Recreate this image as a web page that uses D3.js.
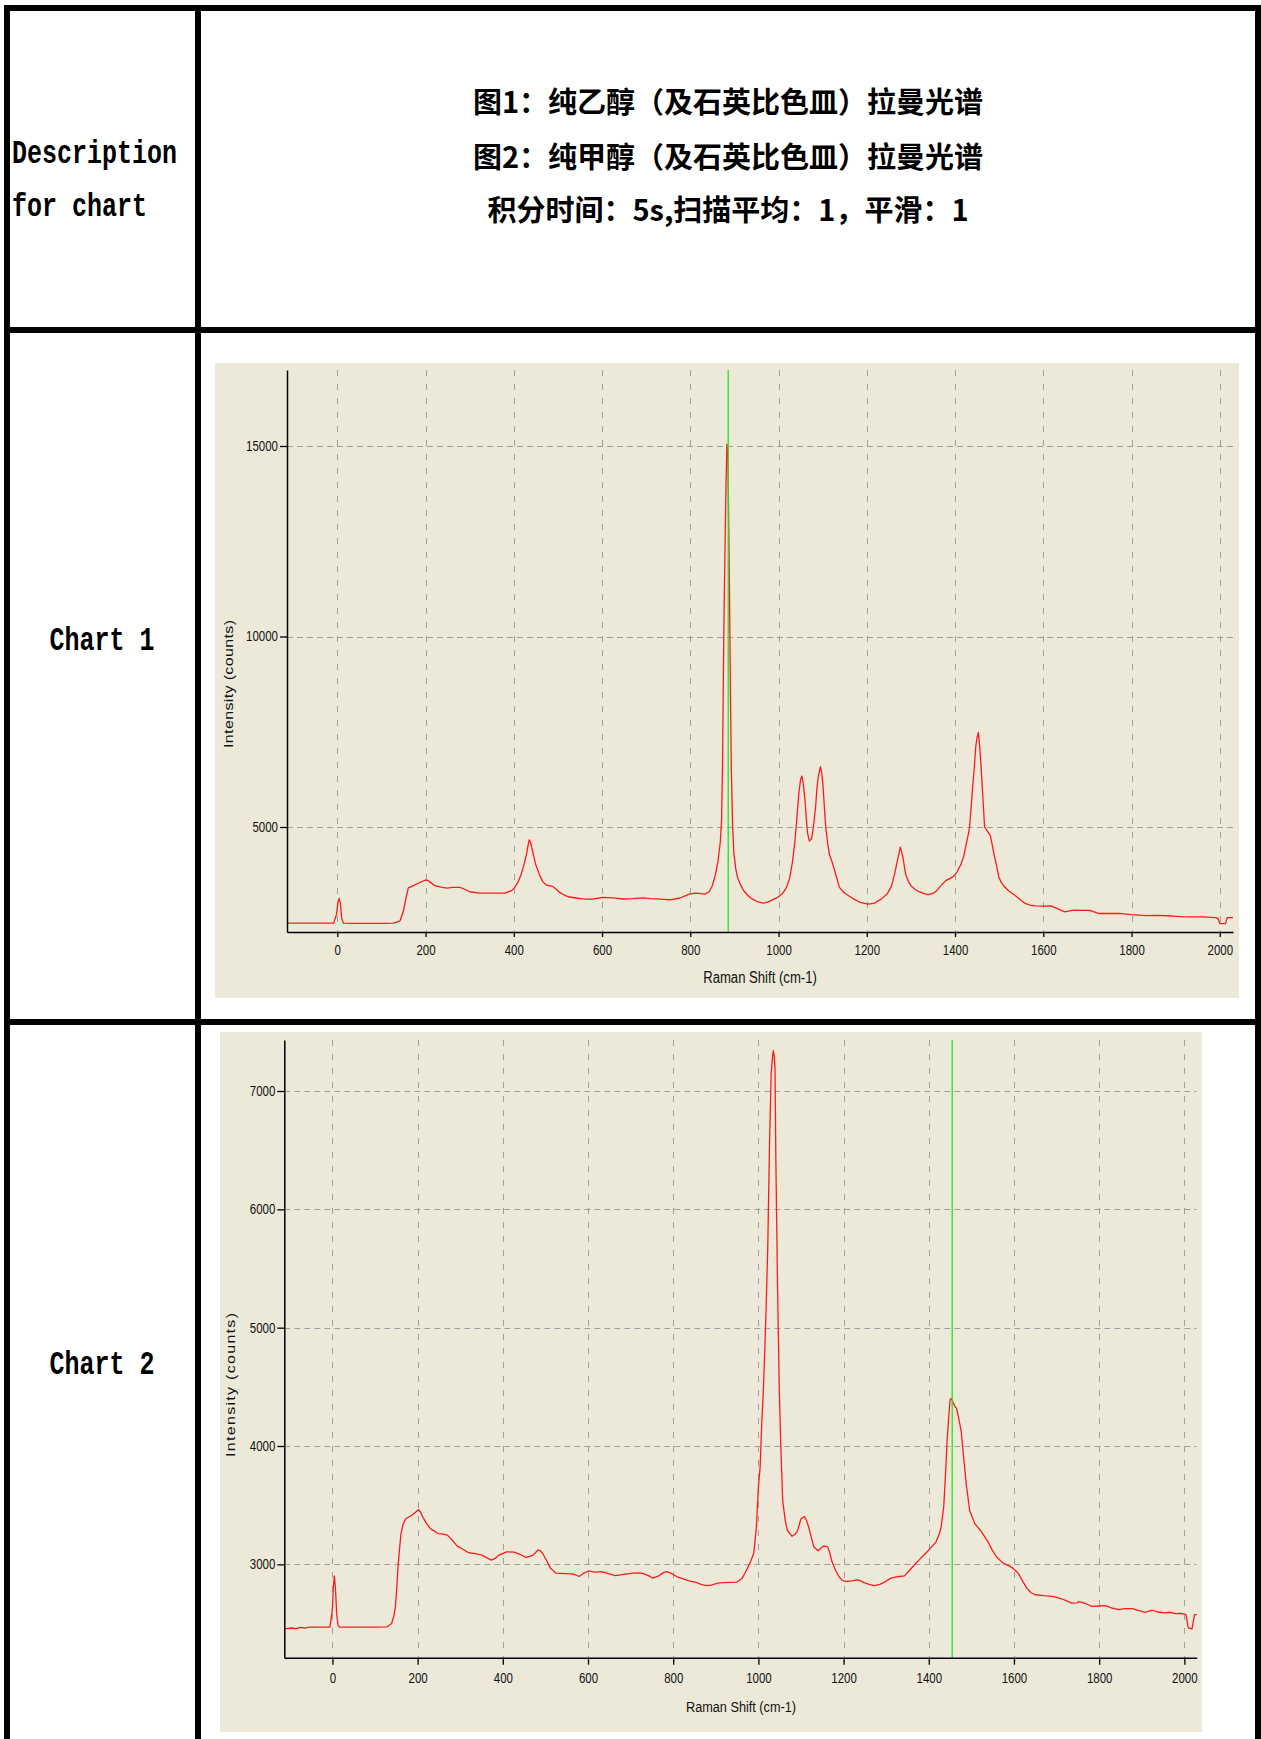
<!DOCTYPE html>
<html><head><meta charset="utf-8">
<script src="https://cdn.jsdelivr.net/npm/d3@7"></script>
<style>
body{margin:0;background:#fff;}
svg{display:block;}
</style>
</head><body>
<svg id="c" width="1261" height="1739"></svg>
<script>
// ---------- data ----------
const descLines = ["图1：纯乙醇（及石英比色皿）拉曼光谱", "图2：纯甲醇（及石英比色皿）拉曼光谱", "积分时间：5s,扫描平均：1，平滑：1"];
const headerLabel = ["Description", "for chart"];
const rowLabels = ["Chart 1", "Chart 2"];
const xTicks = [0, 200, 400, 600, 800, 1000, 1200, 1400, 1600, 1800, 2000];
const yTicks1 = [5000, 10000, 15000];
const yTicks2 = [3000, 4000, 5000, 6000, 7000];
const markerShift = [886, 1455];
const xTitle = "Raman Shift (cm-1)";
const yTitle = "Intensity (counts)";

const ramanShift1 = [-114,-60,-20,-8,-2,2,4,7,10,14,40,80,110,128,142,150,156,161,170,180,190,200,205,212,221,235,248,262,278,290,300,323,350,380,395,402,410,417,424,429,432,435,438,444,450,459,466,474,489,497,504,515,523,545,561,580,602,625,648,670,693,710,723,740,753,775,790,798,811,820,833,843,850,857,863,868,871,873,875,877,879,881,883,885,887,889,891,893,896,899,903,907,914,921,930,938,950,965,975,982,992,1000,1010,1018,1025,1031,1036,1040,1043,1046,1050,1053,1056,1060,1063,1066,1070,1075,1079,1084,1087,1090,1095,1098,1101,1104,1107,1111,1115,1124,1131,1138,1148,1159,1172,1185,1203,1216,1232,1247,1256,1263,1270,1276,1282,1286,1289,1295,1300,1310,1317,1330,1339,1350,1357,1368,1379,1390,1396,1405,1414,1420,1424,1429,1433,1437,1440,1444,1447,1450,1453,1456,1459,1463,1467,1474,1480,1484,1488,1494,1499,1504,1510,1522,1537,1548,1559,1570,1581,1600,1617,1630,1648,1669,1690,1705,1727,1750,1776,1800,1833,1860,1881,1910,1934,1960,1991,1996,2000,2013,2017,2030];
const intensity1 = [2475,2475,2475,2480,2700,3050,3125,3000,2600,2475,2470,2470,2470,2475,2535,2800,3150,3400,3450,3504,3560,3609,3600,3540,3460,3420,3398,3415,3415,3360,3300,3266,3262,3266,3330,3415,3560,3768,4050,4296,4500,4665,4600,4290,4000,3724,3560,3477,3433,3360,3283,3210,3169,3130,3107,3110,3151,3140,3110,3120,3140,3120,3115,3100,3090,3130,3200,3239,3266,3260,3239,3300,3460,3750,4120,4600,5200,6585,9000,11000,12500,14000,15050,14900,13000,11000,8500,6500,5000,4296,3900,3680,3480,3327,3210,3125,3050,3002,3030,3063,3120,3169,3270,3415,3650,4032,4500,5000,5450,5880,6250,6338,6150,5704,5200,4824,4630,4692,5000,5528,6000,6320,6585,6400,6056,5500,5000,4600,4296,3988,3700,3415,3280,3195,3100,3019,2975,2993,3100,3257,3450,3768,4150,4472,4208,3900,3724,3560,3460,3360,3310,3250,3222,3260,3310,3460,3592,3660,3697,3830,4032,4250,4472,4750,5000,5600,6056,6600,7113,7350,7482,7100,6585,5800,5000,4880,4780,4550,4296,4000,3697,3560,3460,3320,3195,3090,2993,2950,2931,2925,2931,2870,2773,2817,2810,2810,2729,2735,2729,2700,2676,2680,2670,2650,2641,2640,2623,2600,2465,2465,2623,2623];

const ramanShift2 = [-113,-95,-85,-75,-65,-55,-30,-6,0,2,4.5,7,10,13,16,60,100,128,139,144,148,151,154,158,161,166,172,186,195,202,207,212,220,230,248,260,270,280,293,305,320,335,351,365,373,382,391,409,427,440,454,463,471,477,482,488,494,503,512,525,545,561,570,579,590,601,615,632,650,664,685,704,720,730,742,752,765,777,784,795,811,825,837,852,864,877,890,904,917,935,949,962,972,980,989,995,1000,1004,1008,1012,1015,1018,1022,1026,1030,1033,1035,1037,1039,1041,1045,1049,1053,1057,1063,1068,1079,1085,1091,1100,1108,1113,1118,1124,1130,1140,1148,1154,1163,1168,1173,1181,1189,1197,1205,1220,1232,1240,1248,1260,1272,1285,1295,1311,1325,1343,1355,1366,1382,1398,1410,1417,1425,1429,1435,1439,1443,1447,1450,1453,1458,1462,1465,1470,1476,1482,1488,1496,1508,1524,1539,1549,1559,1575,1590,1598,1610,1620,1630,1640,1650,1670,1689,1700,1713,1736,1748,1752,1760,1770,1783,1800,1815,1830,1846,1860,1878,1892,1909,1917,1925,1940,1957,1965,1980,1992,2004,2009,2018,2024,2029];
const intensity2 = [2455,2462,2455,2468,2460,2470,2470,2470,2620,2800,2902,2800,2580,2490,2470,2470,2470,2472,2500,2560,2645,2800,2980,3150,3260,3340,3385,3413,3441,3461,3440,3400,3350,3302,3260,3255,3246,3210,3154,3130,3098,3090,3078,3050,3036,3050,3078,3106,3104,3085,3059,3068,3078,3100,3120,3115,3090,3030,2966,2925,2922,2920,2912,2897,2925,2944,2935,2938,2920,2905,2915,2925,2928,2922,2905,2883,2900,2930,2939,2925,2891,2875,2860,2850,2832,2821,2825,2841,2846,2848,2849,2883,2950,3008,3092,3300,3650,3818,4200,4500,4800,5150,5684,6529,7150,7280,7341,7300,7200,6417,5346,4473,3958,3539,3371,3288,3237,3250,3274,3385,3405,3370,3316,3230,3148,3115,3140,3156,3148,3090,3022,2950,2897,2865,2855,2860,2869,2860,2846,2830,2821,2830,2848,2883,2895,2902,2950,2994,3055,3112,3160,3190,3260,3316,3483,3735,4042,4250,4389,4403,4360,4330,4321,4240,4126,3900,3679,3455,3344,3274,3190,3120,3064,3008,2985,2966,2925,2860,2799,2760,2743,2735,2729,2720,2707,2673,2675,2685,2679,2665,2645,2648,2651,2630,2617,2625,2626,2610,2595,2605,2612,2595,2589,2595,2584,2585,2575,2464,2455,2575,2575];

// ---------- layout ----------
const svg = d3.select("#c");
const FONT_SANS = "'Liberation Sans', Arial, 'DejaVu Sans', sans-serif";
const FONT_CJK = "'Noto Sans CJK SC', 'Noto Sans CJK JP', sans-serif";
const FONT_MONO = "'Liberation Mono', 'Courier New', 'DejaVu Sans Mono', monospace";

svg.append("rect").attr("width", 1261).attr("height", 1739).attr("fill", "#fff");

const charts = [
  { xs: ramanShift1, ys: intensity1, yTicks: yTicks1, marker: markerShift[0],
    panel: {x: 215, y: 363, w: 1024, h: 635},
    plot: {l: 287, r: 1233, t: 370, b: 932},
    xDom: [-114, 2030], yDom: [2244, 16995],
    xTickSize: 5, xPad: 8, yTickSize: 7,
    yLab: {x: 229, y: 684, len: 128}, xLab: {x: 760, y: 983, size: 16} },
  { xs: ramanShift2, ys: intensity2, yTicks: yTicks2, marker: markerShift[1],
    panel: {x: 220, y: 1032, w: 982, h: 700},
    plot: {l: 284.3, r: 1196.7, t: 1040, b: 1657.7},
    xDom: [-113, 2029], yDom: [2211, 7431],
    xTickSize: 7, xPad: 8, yTickSize: 7,
    yLab: {x: 231, y: 1385, len: 144}, xLab: {x: 741, y: 1712, size: 15.5} }
];

const SX = 0.82; // horizontal compression of the chart lettering
const fmt = d3.format("d");
charts.forEach(c => {
  const g = svg.append("g");
  g.append("rect").attr("x", c.panel.x).attr("y", c.panel.y)
    .attr("width", c.panel.w).attr("height", c.panel.h).attr("fill", "#ECE9D8");

  const x = d3.scaleLinear().domain(c.xDom).range([c.plot.l, c.plot.r]);
  const y = d3.scaleLinear().domain(c.yDom).range([c.plot.b, c.plot.t]);

  // grid
  g.append("g").selectAll("line").data(xTicks).join("line")
    .attr("x1", d => Math.round(x(d)) + 0.5).attr("x2", d => Math.round(x(d)) + 0.5)
    .attr("y1", c.plot.t).attr("y2", c.plot.b)
    .attr("stroke", "#9E9E9E").attr("stroke-width", 1).attr("stroke-dasharray", "6,8");
  g.append("g").selectAll("line").data(c.yTicks).join("line")
    .attr("x1", c.plot.l).attr("x2", c.plot.r)
    .attr("y1", d => Math.round(y(d)) + 0.5).attr("y2", d => Math.round(y(d)) + 0.5)
    .attr("stroke", "#9E9E9E").attr("stroke-width", 1).attr("stroke-dasharray", "6,4");

  // spectrum
  const pts = c.xs.map((v, i) => [v, c.ys[i]]);
  g.append("path").datum(pts)
    .attr("d", d3.line().x(d => x(d[0])).y(d => y(d[1])))
    .attr("fill", "none").attr("stroke", "#FF1A1A").attr("stroke-width", 1.3)
    .attr("stroke-linejoin", "round");

  // marker cursor
  g.append("line").attr("x1", x(c.marker)).attr("x2", x(c.marker))
    .attr("y1", c.plot.t).attr("y2", c.plot.b)
    .attr("stroke", "#22E622").attr("stroke-width", 1.3);

  // axes
  const ax = d3.axisBottom(x).tickValues(xTicks).tickFormat(fmt)
    .tickSize(c.xTickSize).tickPadding(c.xPad).tickSizeOuter(0);
  const xg = g.append("g").attr("transform", `translate(0,${c.plot.b})`).call(ax);
  const ay = d3.axisLeft(y).tickValues(c.yTicks).tickFormat(fmt)
    .tickSize(c.yTickSize).tickPadding(2).tickSizeOuter(0);
  const yg = g.append("g").attr("transform", `translate(${c.plot.l},0)`).call(ay);
  [xg, yg].forEach(a => {
    a.select(".domain").attr("stroke", "#000").attr("stroke-width", 1.5);
    a.selectAll(".tick line").attr("stroke", "#000").attr("stroke-width", 1.3);
    a.selectAll("text").attr("font-family", FONT_SANS).attr("font-size", 14).attr("fill", "#111");
  });
  xg.selectAll(".tick text").attr("transform", `scale(${SX},1)`);
  yg.selectAll(".tick text").attr("x", -(c.yTickSize + 2) / SX).attr("transform", `scale(${SX},1)`);

  // titles
  g.append("text").attr("transform", `translate(${c.xLab.x},${c.xLab.y}) scale(${SX},1)`)
    .attr("text-anchor", "middle").attr("font-family", FONT_SANS)
    .attr("font-size", c.xLab.size).attr("fill", "#111").text(xTitle);
  g.append("text").attr("transform", `translate(${c.yLab.x},${c.yLab.y}) rotate(-90) scale(1,${SX})`)
    .attr("text-anchor", "middle").attr("dominant-baseline", "central")
    .attr("font-family", FONT_SANS).attr("font-size", 16).attr("fill", "#111")
    .attr("textLength", c.yLab.len).attr("lengthAdjust", "spacing").text(yTitle);
});

// ---------- table ----------
const T = svg.append("g");
const hLines = [[4, 1261, 8], [4, 1261, 330], [4, 1261, 1022]];
const vLines = [[7, 5, 1739], [198, 5, 1739], [1258, 5, 1739]];
T.selectAll(".h").data(hLines).join("line")
  .attr("x1", d => d[0]).attr("x2", d => d[1]).attr("y1", d => d[2]).attr("y2", d => d[2])
  .attr("stroke", "#000").attr("stroke-width", 6);
T.selectAll(".v").data(vLines).join("line")
  .attr("x1", d => d[0]).attr("x2", d => d[0]).attr("y1", d => d[1]).attr("y2", d => d[2])
  .attr("stroke", "#000").attr("stroke-width", 6);

// description header
headerLabel.forEach((t, i) => {
  T.append("text").attr("transform", `translate(12,${[163, 216][i]}) scale(1,1.35)`)
    .attr("font-family", FONT_MONO).attr("font-weight", "bold").attr("font-size", 25)
    .attr("fill", "#000").text(t);
});
descLines.forEach((t, i) => {
  T.append("text").attr("x", 728).attr("y", [99.5, 154.5, 207.5][i])
    .attr("text-anchor", "middle").attr("dominant-baseline", "central")
    .attr("font-family", FONT_CJK).attr("font-weight", "bold").attr("font-size", 29)
    .attr("fill", "#000").text(t);
});
rowLabels.forEach((t, i) => {
  T.append("text").attr("transform", `translate(102,${[650, 1374][i]}) scale(1,1.35)`)
    .attr("text-anchor", "middle")
    .attr("font-family", FONT_MONO).attr("font-weight", "bold").attr("font-size", 25)
    .attr("fill", "#000").text(t);
});
</script>
</body></html>
